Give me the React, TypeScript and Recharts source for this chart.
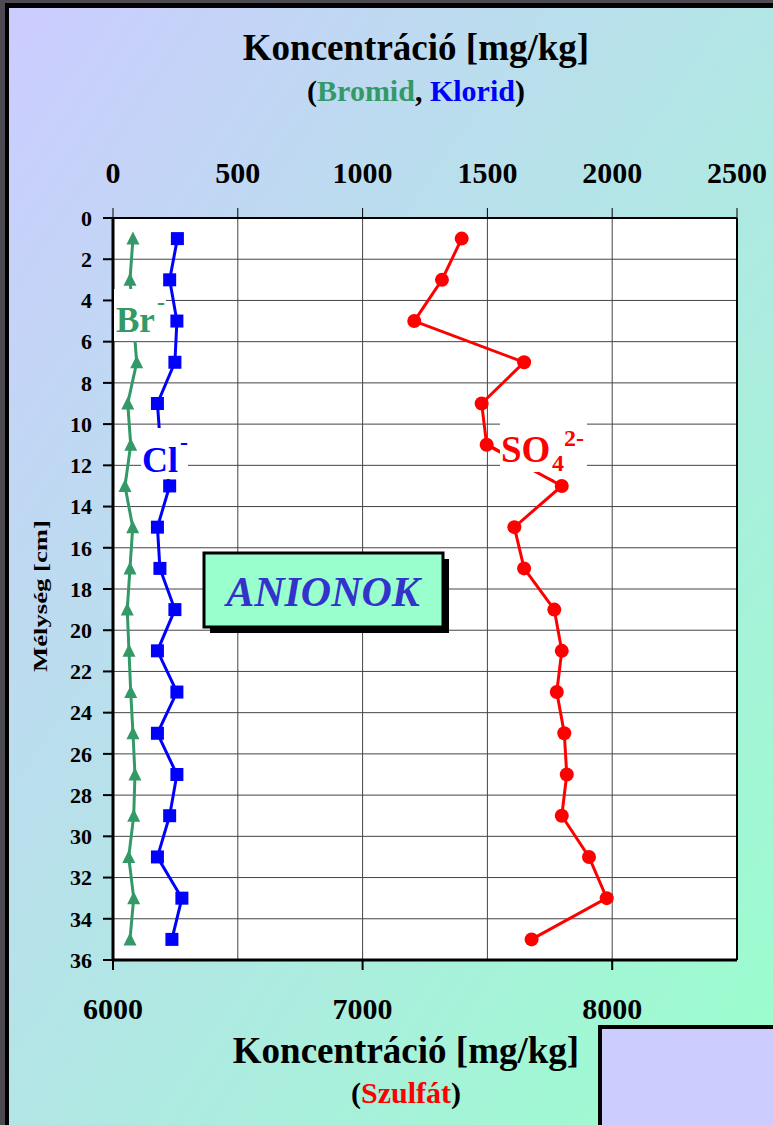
import React from 'react';
import { CartesianGrid, ReferenceLine, Scatter, ScatterChart, XAxis, YAxis } from 'recharts';

// depth of each sample (cm)
const DEPTHS = [1, 3, 5, 7, 9, 11, 13, 15, 17, 19, 21, 23, 25, 27, 29, 31, 33, 35];
// mg/kg, top axis
const BROMID = [80, 68, 82, 95, 59, 71, 48, 79, 68, 57, 64, 71, 80, 88, 83, 63, 83, 68];
const KLORID = [258, 227, 256, 248, 178, 190, 227, 178, 188, 248, 178, 256, 178, 256, 227, 178, 276, 236];
// mg/kg, bottom axis
const SZULFAT = [7397, 7318, 7207, 7647, 7477, 7497, 7798, 7608, 7647, 7768, 7798, 7778, 7808, 7818, 7798, 7907, 7978, 7677];

const TOP_TICKS = [0, 500, 1000, 1500, 2000, 2500];
const BOTTOM_TICKS = [6000, 7000, 8000];
const DEPTH_TICKS = [0, 2, 4, 6, 8, 10, 12, 14, 16, 18, 20, 22, 24, 26, 28, 30, 32, 34, 36];

const GREEN = '#339966';
const BLUE = '#0000ff';
const RED = '#ff0000';
const SERIF = '"Liberation Serif", "Times New Roman", serif';

const toPoints = (values: number[]) => values.map((v, i) => ({ x: v, y: DEPTHS[i] }));

const brData = toPoints(BROMID);
const clData = toPoints(KLORID);
const so4Data = toPoints(SZULFAT);

const Triangle = (props: any) => {
  const { cx, cy } = props;
  return <path d={`M${cx},${cy - 7}L${cx + 6.5},${cy + 6}L${cx - 6.5},${cy + 6}Z`} fill={GREEN} />;
};

const Square = (props: any) => {
  const { cx, cy } = props;
  return <rect x={cx - 6.5} y={cy - 6.5} width={13} height={13} fill={BLUE} />;
};

const Dot = (props: any) => {
  const { cx, cy } = props;
  return <circle cx={cx} cy={cy} r={7} fill={RED} />;
};

const axisTick = { fill: '#000', fontSize: 30, fontWeight: 'bold', fontFamily: SERIF };

const Overlay: React.FC = () => (
  <svg
    width={773}
    height={1125}
    style={{ position: 'absolute', left: 0, top: 0, pointerEvents: 'none' }}
    fontFamily={SERIF}
    fontWeight="bold"
  >
    <text x={416} y={60} textAnchor="middle" fontSize={37}>
      Koncentráció [mg/kg]
    </text>
    <text x={416} y={101} textAnchor="middle" fontSize={30}>
      (<tspan fill={GREEN}>Bromid</tspan>, <tspan fill={BLUE}>Klorid</tspan>)
    </text>
    <text x={406} y={1063} textAnchor="middle" fontSize={37}>
      Koncentráció [mg/kg]
    </text>
    <text x={406} y={1103} textAnchor="middle" fontSize={30}>
      (<tspan fill={RED}>Szulfát</tspan>)
    </text>
    <text
      x={47}
      y={596}
      textAnchor="middle"
      fontSize={18}
      textLength={152}
      lengthAdjust="spacingAndGlyphs"
      transform="rotate(-90, 47, 596)"
    >
      Mélység [cm]
    </text>

    {/* series labels */}
    <rect x={114} y={289} width={52} height={52} fill="#fff" />
    <text x={116} y={332} fontSize={35} fill={GREEN}>Br</text>
    <text x={157} y={310} fontSize={24} fill={GREEN}>-</text>

    <rect x={141} y={428} width={47} height={51} fill="#fff" />
    <text x={142} y={472} fontSize={36} fill={BLUE}>Cl</text>
    <text x={180} y={450} fontSize={24} fill={BLUE}>-</text>

    <line x1={488} y1={444} x2={500} y2={451} stroke={RED} strokeWidth={2} />
    <line x1={545} y1={477} x2={554} y2={481} stroke={RED} strokeWidth={2} />
    <rect x={500} y={421} width={87} height={51} fill="#fff" />
    <text x={501} y={462} fontSize={37} fill={RED}>SO</text>
    <text x={552} y={471} fontSize={24} fill={RED}>4</text>
    <text x={564} y={446} fontSize={24} fill={RED}>2-</text>

    {/* title box */}
    <rect x={210} y={559} width={239} height={74} fill="#000" />
    <rect x={204} y={553} width={239} height={74} fill="#99ffcc" stroke="#000" strokeWidth={3} />
    <text x={323} y={606} textAnchor="middle" fontSize={42} fontStyle="italic" fill="#3333cc">
      ANIONOK
    </text>
  </svg>
);

const App: React.FC = () => {
  return (
    <div
      style={{
        position: 'absolute',
        left: 0,
        top: 0,
        width: 773,
        height: 1125,
        overflow: 'hidden',
        background: '#4d4a52',
      }}
    >
      <div
        style={{
          position: 'absolute',
          left: 5,
          top: 3,
          right: 0,
          bottom: 0,
          borderLeft: '4px solid #000',
          borderTop: '5px solid #000',
          background: 'linear-gradient(to bottom right, #ccccff, #99ffcc)',
        }}
      />
      <div style={{ position: 'absolute', left: 0, top: 0 }}>
        <ScatterChart width={773} height={1125} margin={{ top: 178, right: 36, bottom: 125, left: 53 }}>
          <CartesianGrid xAxisId="top" yAxisId="depth" stroke="#444" fill="#fff" />
          <XAxis
            xAxisId="top"
            orientation="top"
            type="number"
            dataKey="x"
            domain={[0, 2500]}
            ticks={TOP_TICKS}
            height={40}
            tickSize={10}
            tickMargin={25}
            tick={axisTick}
            axisLine={{ stroke: '#000', strokeWidth: 2 }}
            tickLine={{ stroke: '#000' }}
          />
          <XAxis
            xAxisId="bottom"
            orientation="bottom"
            type="number"
            dataKey="x"
            domain={[6000, 8500]}
            ticks={BOTTOM_TICKS}
            height={40}
            tickSize={10}
            tickMargin={28}
            tick={axisTick}
            axisLine={{ stroke: '#000', strokeWidth: 3 }}
            tickLine={{ stroke: '#000', strokeWidth: 2 }}
          />
          <YAxis
            yAxisId="depth"
            type="number"
            dataKey="y"
            domain={[0, 36]}
            reversed
            ticks={DEPTH_TICKS}
            width={60}
            tickSize={10}
            tickMargin={11}
            tick={{ ...axisTick, fontSize: 22 }}
            axisLine={{ stroke: '#000', strokeWidth: 3 }}
            tickLine={{ stroke: '#000', strokeWidth: 2 }}
          />
          <ReferenceLine xAxisId="top" yAxisId="depth" x={2500} stroke="#000" strokeWidth={2} />
          <Scatter
            xAxisId="top"
            yAxisId="depth"
            data={brData}
            line={{ stroke: GREEN, strokeWidth: 3 }}
            lineType="joint"
            shape={Triangle}
            isAnimationActive={false}
          />
          <Scatter
            xAxisId="top"
            yAxisId="depth"
            data={clData}
            line={{ stroke: BLUE, strokeWidth: 3 }}
            lineType="joint"
            shape={Square}
            isAnimationActive={false}
          />
          <Scatter
            xAxisId="bottom"
            yAxisId="depth"
            data={so4Data}
            line={{ stroke: RED, strokeWidth: 3 }}
            lineType="joint"
            shape={Dot}
            isAnimationActive={false}
          />
        </ScatterChart>
      </div>
      <Overlay />
      <div
        style={{
          position: 'absolute',
          left: 598,
          top: 1025,
          width: 200,
          height: 120,
          background: '#ccccff',
          border: '4px solid #000',
        }}
      />
    </div>
  );
};

export default App;
